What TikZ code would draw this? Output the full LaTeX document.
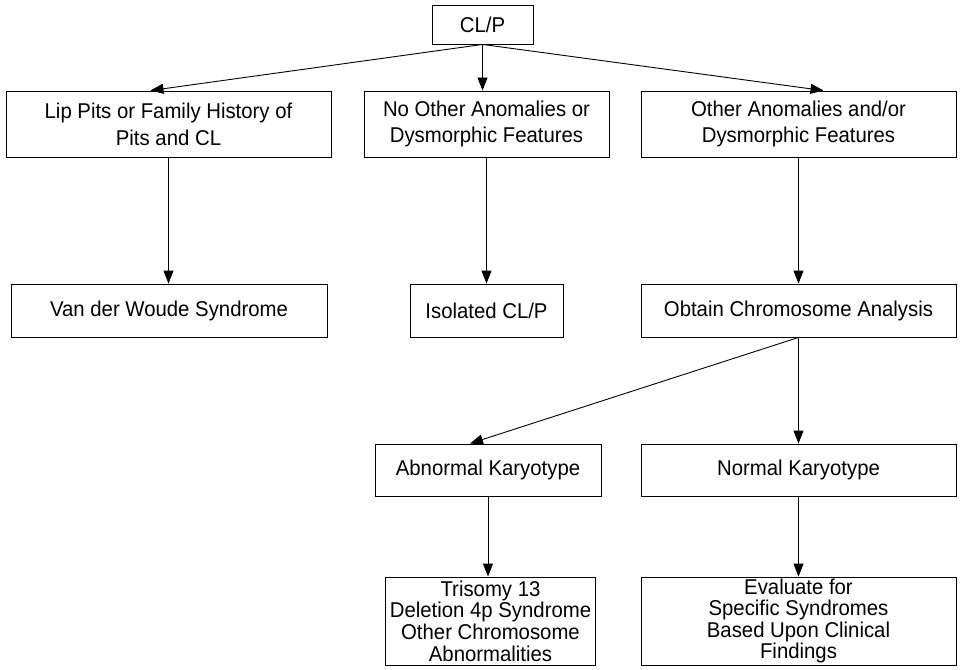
\documentclass[tikz,border=0pt]{standalone}
\usepackage{fontspec}
\setmainfont{Liberation Sans}[FakeStretch=0.95]
\usetikzlibrary{calc,arrows.meta}

\begin{document}
\begin{tikzpicture}[x=1bp,y=-1bp,
	caixa/.style={draw,line width=0.9bp,align=center,inner sep=0pt,
		font=\fontsize{21.5}{21.7}\selectfont},
	caixadupla/.style={caixa,font=\fontsize{21.5}{27}\selectfont},
	seta/.style={-{Triangle[length=13bp,width=10bp]},line width=0.9bp}]
	
	% Tamanho da figura
	\useasboundingbox (0,0) rectangle (961,670);
	
	% Topo
	\node [caixa,minimum width=101bp,minimum height=39bp] (clp) at (482.5,24.5) {CL/P};
	
	% Primeira linha
	\node [caixadupla,minimum width=325bp,minimum height=66bp] (lip) at (168.5,124)
		{Lip Pits or Family History of\\Pits and CL};
	\node [caixadupla,minimum width=245bp,minimum height=66bp] (semoutras) at (486.5,124)
		{No Other Anomalies or\\Dysmorphic Features};
	\node [caixadupla,minimum width=315bp,minimum height=66bp] (outras) at (798.5,124)
		{Other Anomalies and/or\\Dysmorphic Features};
	
	% Segunda linha
	\node [caixa,minimum width=316bp,minimum height=53bp] (vdw) at (169,310.5) {Van der Woude Syndrome};
	\node [caixa,minimum width=153bp,minimum height=53bp] (isolada) at (486.5,310.5) {Isolated CL/P};
	\node [caixa,minimum width=315bp,minimum height=53bp] (cromo) at (798.5,310.5) {Obtain Chromosome Analysis};
	
	% Terceira linha
	\node [caixa,minimum width=226bp,minimum height=52bp] (anormal) at (488,470) {Abnormal Karyotype};
	\node [caixa,minimum width=315bp,minimum height=52bp] (normal) at (798.5,470) {Normal Karyotype};
	
	% Quarta linha
	\node [caixa,minimum width=210bp,minimum height=88bp] (trissomia) at (490.5,621)
		{Trisomy 13\\Deletion 4p Syndrome\\Other Chromosome\\Abnormalities};
	\node [caixa,minimum width=315bp,minimum height=88bp] (avaliar) at (798.5,621)
		{Evaluate for\\Specific Syndromes\\Based Upon Clinical\\Findings};
	
	% Flechas do topo
	\draw [seta] (clp.south) -- ($(lip.north)+(-18,0)$);
	\draw [seta] (clp.south) -- (clp.south |- semoutras.north);
	\draw [seta] (clp.south) -- ($(outras.north)+(25,0)$);
	
	% Flechas verticais
	\draw [seta] (lip.south) -- (lip.south |- vdw.north);
	\draw [seta] (semoutras.south) -- (semoutras.south |- isolada.north);
	\draw [seta] (outras.south) -- (outras.south |- cromo.north);
	
	% Flechas da análise
	\draw [seta] (cromo.south) -- ($(anormal.north)+(-18,0)$);
	\draw [seta] (cromo.south) -- (cromo.south |- normal.north);
	
	% Flechas finais
	\draw [seta] (anormal.south) -- (anormal.south |- trissomia.north);
	\draw [seta] (normal.south) -- (normal.south |- avaliar.north);
	
\end{tikzpicture}
\end{document}
